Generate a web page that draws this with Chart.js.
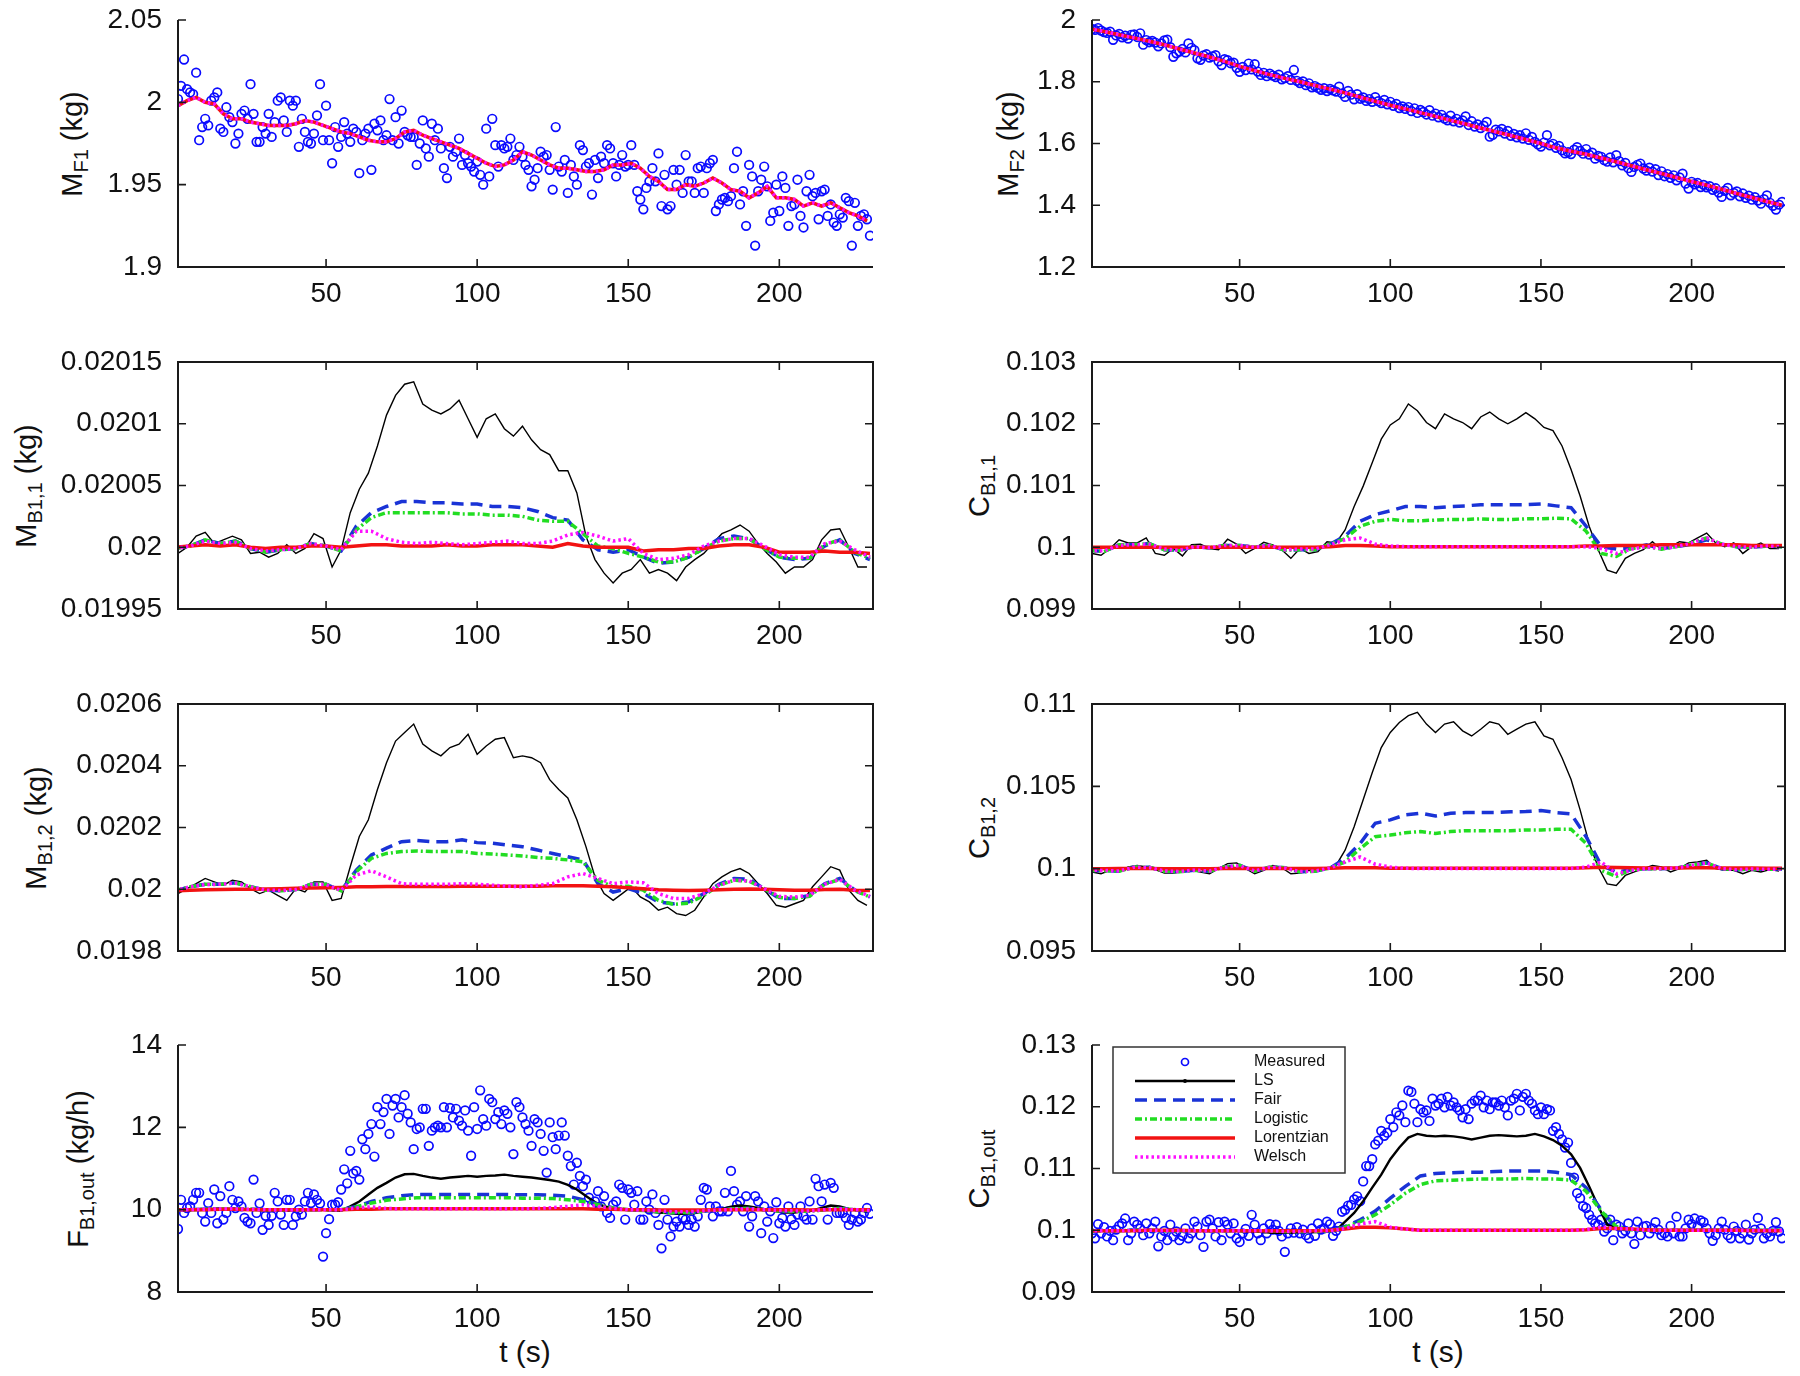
<!DOCTYPE html>
<html>
<head>
<meta charset="utf-8">
<script src="https://cdn.jsdelivr.net/npm/chart.js@4.4.1/dist/chart.umd.min.js"></script>
<style>
  html, body { margin: 0; padding: 0; background: #fff; }
  #page { position: relative; width: 1800px; height: 1376px; overflow: hidden; background: #fff;
          font-family: "Liberation Sans", Arial, Helvetica, sans-serif; color: #111; }
  canvas { position: absolute; }
  .ylab { position: absolute; font-size: 29px; white-space: nowrap; line-height: 1;
          transform: translate(-50%, -50%) rotate(-90deg); }
  .ylab sub { font-size: 20px; vertical-align: -0.3em; line-height: 0; }
  .xlab { position: absolute; font-size: 30px; white-space: nowrap; line-height: 1;
          transform: translate(-50%, -50%); }
</style>
</head>
<body>
<div id="page">
  <div class="ylab" style="left:72px;top:144px">M<sub>F1</sub> (kg)</div>
  <div class="ylab" style="left:1008px;top:144px">M<sub>F2</sub> (kg)</div>
  <div class="ylab" style="left:26px;top:486px">M<sub>B1,1</sub> (kg)</div>
  <div class="ylab" style="left:979px;top:486px">C<sub>B1,1</sub></div>
  <div class="ylab" style="left:36px;top:828px">M<sub>B1,2</sub> (kg)</div>
  <div class="ylab" style="left:979px;top:828px">C<sub>B1,2</sub></div>
  <div class="ylab" style="left:78px;top:1169px">F<sub>B1,out</sub> (kg/h)</div>
  <div class="ylab" style="left:979px;top:1169px">C<sub>B1,out</sub></div>
  <div class="xlab" style="left:525px;top:1352px">t (s)</div>
  <div class="xlab" style="left:1438px;top:1352px">t (s)</div>
</div>
<script>
// sample times (s): every second for measurements, every 3 s for LS, every 5 s for the robust fits
function seq(a, b, s) { var r = []; for (var v = a; v <= b; v += s) r.push(v); return r; }
var tMeas = seq(1, 230, 1);
var tLS = seq(1, 229, 3);
var tSm = seq(0, 230, 5);

var xTicks = [50, 100, 150, 200];
var xTickLabels = ['50', '100', '150', '200'];
var legendNames = ['Measured', 'LS', 'Fair', 'Logistic', 'Lorentzian', 'Welsch'];

// ---- M_F1 ----
var mf1Ticks = [1.9, 1.95, 2, 2.05];
var mf1TickLabels = ['1.9', '1.95', '2', '2.05'];
var mf1Measured = [
  2.002, 2.010, 2.026, 2.008, 2.006, 2.005, 2.018, 1.977, 1.985, 1.990,
  1.986, 2.001, 2.003, 2.006, 1.984, 1.982, 1.997, 1.991, 1.988, 1.975,
  1.981, 1.993, 1.995, 1.990, 2.011, 1.993, 1.976, 1.976, 1.985, 1.981,
  1.993, 1.979, 1.988, 2.001, 2.003, 1.989, 1.982, 2.001, 1.998, 2.001,
  1.973, 1.990, 1.982, 1.976, 1.975, 1.981, 1.992, 2.011, 1.977, 1.998,
  1.977, 1.963, 1.985, 1.973, 1.979, 1.988, 1.981, 1.976, 1.984, 1.982,
  1.957, 1.977, 1.981, 1.984, 1.959, 1.987, 1.983, 1.989, 1.977, 1.980,
  2.002, 1.977, 1.991, 1.975, 1.995, 1.982, 1.980, 1.979, 1.979, 1.962,
  1.975, 1.989, 1.972, 1.967, 1.987, 1.977, 1.984, 1.972, 1.960, 1.954,
  1.973, 1.967, 1.970, 1.978, 1.962, 1.968, 1.963, 1.961, 1.958, 1.964,
  1.956, 1.950, 1.984, 1.955, 1.990, 1.974, 1.961, 1.974, 1.972, 1.973,
  1.978, 1.965, 1.968, 1.973, 1.967, 1.962, 1.959, 1.949, 1.953, 1.960,
  1.970, 1.967, 1.968, 1.959, 1.947, 1.985, 1.961, 1.958, 1.965, 1.945,
  1.962, 1.955, 1.950, 1.974, 1.971, 1.961, 1.963, 1.944, 1.965, 1.954,
  1.967, 1.963, 1.974, 1.972, 1.963, 1.955, 1.962, 1.968, 1.961, 1.962,
  1.974, 1.962, 1.946, 1.941, 1.935, 1.948, 1.952, 1.960, 1.952, 1.969,
  1.937, 1.956, 1.935, 1.937, 1.959, 1.950, 1.959, 1.945, 1.968, 1.952,
  1.952, 1.945, 1.960, 1.961, 1.945, 1.960, 1.963, 1.965, 1.934, 1.938,
  1.941, 1.942, 1.940, 1.943, 1.960, 1.970, 1.938, 1.946, 1.925, 1.962,
  1.955, 1.913, 1.946, 1.953, 1.961, 1.949, 1.928, 1.933, 1.950, 1.934,
  1.955, 1.948, 1.925, 1.937, 1.938, 1.953, 1.931, 1.924, 1.946, 1.956,
  1.943, 1.945, 1.929, 1.946, 1.947, 1.931, 1.938, 1.927, 1.925, 1.932,
  1.930, 1.942, 1.940, 1.913, 1.939, 1.925, 1.931, 1.932, 1.929, 1.919
];
var mf1Fit = [
  1.998, 2.001, 2.003, 2.000, 1.999, 1.993, 1.990, 1.990, 1.988, 1.987,
  1.986, 1.986, 1.986, 1.987, 1.989, 1.988, 1.986, 1.984, 1.982, 1.981,
  1.979, 1.977, 1.976, 1.976, 1.978, 1.982, 1.983, 1.980, 1.978, 1.976,
  1.974, 1.972, 1.969, 1.966, 1.963, 1.961, 1.962, 1.965, 1.970, 1.968,
  1.965, 1.962, 1.960, 1.960, 1.959, 1.958, 1.958, 1.959, 1.962, 1.962,
  1.963, 1.960, 1.955, 1.952, 1.947, 1.947, 1.950, 1.949, 1.951, 1.954,
  1.951, 1.947, 1.946, 1.942, 1.945, 1.949, 1.942, 1.942, 1.941, 1.937,
  1.939, 1.937, 1.939, 1.936, 1.933, 1.931, 1.928
];

// ---- M_F2 ----
var mf2Ticks = [1.2, 1.4, 1.6, 1.8, 2];
var mf2TickLabels = ['1.2', '1.4', '1.6', '1.8', '2'];
var mf2Measured = [
  1.971, 1.968, 1.974, 1.966, 1.961, 1.958, 1.962, 1.936, 1.950, 1.955,
  1.944, 1.949, 1.940, 1.952, 1.953, 1.945, 1.957, 1.920, 1.935, 1.928,
  1.932, 1.927, 1.915, 1.924, 1.934, 1.936, 1.912, 1.881, 1.892, 1.898,
  1.906, 1.895, 1.924, 1.910, 1.902, 1.876, 1.871, 1.885, 1.889, 1.878,
  1.882, 1.886, 1.866, 1.854, 1.873, 1.870, 1.860, 1.862, 1.845, 1.832,
  1.848, 1.838, 1.859, 1.840, 1.857, 1.833, 1.822, 1.829, 1.818, 1.826,
  1.820, 1.815, 1.823, 1.808, 1.812, 1.818, 1.806, 1.838, 1.803, 1.796,
  1.801, 1.789, 1.795, 1.782, 1.786, 1.780, 1.774, 1.779, 1.770, 1.777,
  1.772, 1.768, 1.784, 1.762, 1.751, 1.770, 1.758, 1.743, 1.760, 1.745,
  1.749, 1.738, 1.744, 1.735, 1.750, 1.737, 1.731, 1.741, 1.727, 1.735,
  1.722, 1.728, 1.715, 1.720, 1.712, 1.718, 1.705, 1.714, 1.699, 1.709,
  1.702, 1.694, 1.708, 1.690, 1.697, 1.685, 1.693, 1.681, 1.675, 1.690,
  1.672, 1.680, 1.668, 1.675, 1.688, 1.660, 1.672, 1.655, 1.662, 1.650,
  1.658, 1.670, 1.622, 1.628, 1.645, 1.639, 1.647, 1.632, 1.641, 1.625,
  1.631, 1.620, 1.627, 1.616, 1.633, 1.612, 1.621, 1.605, 1.597, 1.590,
  1.603, 1.627, 1.594, 1.599, 1.586, 1.592, 1.578, 1.568, 1.572, 1.566,
  1.580, 1.588, 1.576, 1.567, 1.582, 1.564, 1.570, 1.551, 1.560, 1.557,
  1.546, 1.541, 1.555, 1.539, 1.562, 1.543, 1.529, 1.537, 1.520, 1.508,
  1.524, 1.531, 1.535, 1.519, 1.512, 1.522, 1.509, 1.517, 1.498, 1.510,
  1.494, 1.501, 1.489, 1.497, 1.481, 1.490, 1.502, 1.470, 1.454, 1.476,
  1.468, 1.472, 1.459, 1.466, 1.458, 1.462, 1.450, 1.455, 1.441, 1.427,
  1.447, 1.456, 1.432, 1.440, 1.445, 1.429, 1.438, 1.424, 1.431, 1.418,
  1.426, 1.415, 1.405, 1.420, 1.432, 1.408, 1.398, 1.386, 1.402, 1.411
];
var mf2Fit = [
  1.972, 1.963, 1.952, 1.942, 1.931, 1.920, 1.906, 1.893, 1.880, 1.866,
  1.850, 1.836, 1.823, 1.811, 1.800, 1.788, 1.776, 1.764, 1.750, 1.737,
  1.724, 1.712, 1.700, 1.688, 1.675, 1.663, 1.650, 1.638, 1.626, 1.613,
  1.600, 1.586, 1.575, 1.565, 1.553, 1.541, 1.528, 1.515, 1.503, 1.490,
  1.477, 1.465, 1.452, 1.438, 1.425, 1.412, 1.400
];

// ---- M_B1,1 ----
var mb11Ticks = [0.01995, 0.02, 0.02005, 0.0201, 0.02015];
var mb11TickLabels = ['0.01995', '0.02', '0.02005', '0.0201', '0.02015'];
var mb11LS = [
  0.019995, 0.020000, 0.020009, 0.020012, 0.020003, 0.020006, 0.020009, 0.020006, 0.019995, 0.019996,
  0.019992, 0.019995, 0.020002, 0.019995, 0.019999, 0.020011, 0.020007, 0.019984, 0.019998, 0.020028,
  0.020047, 0.020060, 0.020082, 0.020107, 0.020123, 0.020132, 0.020134, 0.020116, 0.020111, 0.020108,
  0.020112, 0.020119, 0.020104, 0.020089, 0.020104, 0.020108, 0.020096, 0.020090, 0.020098, 0.020087,
  0.020079, 0.020075, 0.020062, 0.020062, 0.020044, 0.020009, 0.019990, 0.019979, 0.019971, 0.019979,
  0.019982, 0.019990, 0.019979, 0.019982, 0.019979, 0.019973, 0.019984, 0.019990, 0.019995, 0.020003,
  0.020011, 0.020014, 0.020018, 0.020013, 0.020003, 0.019995, 0.019988, 0.019979, 0.019984, 0.019984,
  0.019990, 0.020006, 0.020014, 0.020015, 0.020000, 0.019984, 0.019984
];
var mb11Fair = [
  0.019999, 0.020001, 0.020006, 0.020003, 0.020005, 0.019999, 0.019996, 0.019998, 0.019999, 0.020003,
  0.020001, 0.019997, 0.020017, 0.020028, 0.020033, 0.020037, 0.020037, 0.020036, 0.020036, 0.020035,
  0.020035, 0.020033, 0.020033, 0.020032, 0.020029, 0.020024, 0.020022, 0.020006, 0.019998, 0.019996,
  0.019998, 0.019992, 0.019987, 0.019988, 0.019992, 0.019999, 0.020007, 0.020009, 0.020007, 0.019999,
  0.019992, 0.019990, 0.019991, 0.020001, 0.020006, 0.019995, 0.019990
];
var mb11Logistic = [
  0.019999, 0.020001, 0.020006, 0.020003, 0.020005, 0.019999, 0.019996, 0.019998, 0.019999, 0.020003,
  0.020001, 0.019997, 0.020014, 0.020024, 0.020028, 0.020028, 0.020028, 0.020028, 0.020028, 0.020027,
  0.020027, 0.020026, 0.020026, 0.020025, 0.020022, 0.020021, 0.020021, 0.020011, 0.020001, 0.019999,
  0.019995, 0.019992, 0.019988, 0.019988, 0.019992, 0.019999, 0.020005, 0.020007, 0.020007, 0.019999,
  0.019992, 0.019991, 0.019991, 0.020002, 0.020006, 0.019996, 0.019991
];
var mb11Welsch = [
  0.019999, 0.020001, 0.020005, 0.020003, 0.020004, 0.019999, 0.019997, 0.019998, 0.019999, 0.020003,
  0.020001, 0.019998, 0.020013, 0.020013, 0.020007, 0.020004, 0.020003, 0.020004, 0.020003, 0.020002,
  0.020003, 0.020004, 0.020005, 0.020003, 0.020003, 0.020005, 0.020010, 0.020012, 0.020009, 0.020005,
  0.020007, 0.019995, 0.019990, 0.019991, 0.019994, 0.020001, 0.020005, 0.020007, 0.020007, 0.020001,
  0.019994, 0.019992, 0.019992, 0.020003, 0.020005, 0.019998, 0.019992
];
var mb11Lorentzian = [
  0.020000, 0.020001, 0.020002, 0.020001, 0.020002, 0.020000, 0.019999, 0.020000, 0.020000, 0.020001,
  0.020001, 0.020000, 0.020001, 0.020002, 0.020002, 0.020001, 0.020001, 0.020001, 0.020002, 0.020001,
  0.020001, 0.020002, 0.020002, 0.020002, 0.020001, 0.020000, 0.020003, 0.020001, 0.020000, 0.020000,
  0.020000, 0.019997, 0.019998, 0.019998, 0.019999, 0.019999, 0.020001, 0.020002, 0.020002, 0.020000,
  0.019996, 0.019996, 0.019996, 0.019997, 0.019996, 0.019996, 0.019995
];

// ---- C_B1,1 ----
var cb11Ticks = [0.099, 0.1, 0.101, 0.102, 0.103];
var cb11TickLabels = ['0.099', '0.1', '0.101', '0.102', '0.103'];
var cb11LS = [
  0.09990, 0.09987, 0.09998, 0.10012, 0.10007, 0.10007, 0.10015, 0.09990, 0.09987, 0.09998,
  0.09986, 0.10004, 0.10005, 0.09998, 0.09996, 0.10013, 0.10005, 0.09990, 0.09998, 0.10008,
  0.10004, 0.09996, 0.09982, 0.09998, 0.09990, 0.09993, 0.10009, 0.10007, 0.10028, 0.10066,
  0.10099, 0.10137, 0.10175, 0.10198, 0.10208, 0.10232, 0.10221, 0.10202, 0.10192, 0.10216,
  0.10208, 0.10202, 0.10192, 0.10211, 0.10219, 0.10208, 0.10200, 0.10208, 0.10218, 0.10208,
  0.10194, 0.10189, 0.10164, 0.10126, 0.10083, 0.10034, 0.09996, 0.09963, 0.09958, 0.09982,
  0.09990, 0.09996, 0.10009, 0.09996, 0.10001, 0.10009, 0.10007, 0.10015, 0.10023, 0.10007,
  0.10001, 0.10007, 0.09990, 0.10001, 0.10007, 0.09998, 0.09998
];
var cb11Fair = [
  0.09995, 0.09993, 0.10004, 0.10004, 0.10006, 0.09996, 0.09995, 0.10001, 0.09999, 0.10003,
  0.10003, 0.10000, 0.10003, 0.09995, 0.09996, 0.09996, 0.10005, 0.10018, 0.10042, 0.10053,
  0.10059, 0.10066, 0.10066, 0.10064, 0.10066, 0.10067, 0.10069, 0.10069, 0.10069, 0.10069,
  0.10070, 0.10067, 0.10064, 0.10034, 0.10001, 0.09997, 0.09998, 0.10004, 0.09998, 0.10001,
  0.10005, 0.10012, 0.10005, 0.10001, 0.10000, 0.10002, 0.10001
];
var cb11Logistic = [
  0.09995, 0.09993, 0.10004, 0.10004, 0.10006, 0.09996, 0.09995, 0.10001, 0.09999, 0.10003,
  0.10003, 0.10000, 0.10003, 0.09995, 0.09996, 0.09996, 0.10005, 0.10014, 0.10034, 0.10042,
  0.10045, 0.10043, 0.10043, 0.10044, 0.10045, 0.10045, 0.10046, 0.10045, 0.10045, 0.10046,
  0.10046, 0.10047, 0.10046, 0.10026, 0.09990, 0.09985, 0.09998, 0.10001, 0.09997, 0.10001,
  0.10007, 0.10015, 0.10005, 0.10001, 0.10000, 0.10002, 0.10001
];
var cb11Welsch = [
  0.09995, 0.09994, 0.10003, 0.10004, 0.10005, 0.09997, 0.09995, 0.10001, 0.09999, 0.10003,
  0.10003, 0.10000, 0.10003, 0.09996, 0.09997, 0.09997, 0.10004, 0.10012, 0.10015, 0.10005,
  0.10002, 0.10001, 0.10001, 0.10001, 0.10001, 0.10001, 0.10001, 0.10001, 0.10001, 0.10001,
  0.10001, 0.10001, 0.10001, 0.10001, 0.09998, 0.09990, 0.09997, 0.10001, 0.09998, 0.10001,
  0.10007, 0.10015, 0.10005, 0.10001, 0.10000, 0.10002, 0.10001
];
var cb11Lorentzian = [
  0.10000, 0.10000, 0.10000, 0.10000, 0.10000, 0.10000, 0.10000, 0.10000, 0.10000, 0.10000,
  0.10000, 0.10000, 0.10000, 0.10000, 0.10000, 0.10000, 0.10001, 0.10003, 0.10003, 0.10002,
  0.10001, 0.10001, 0.10001, 0.10001, 0.10001, 0.10001, 0.10001, 0.10001, 0.10001, 0.10001,
  0.10001, 0.10001, 0.10001, 0.10002, 0.10002, 0.10003, 0.10003, 0.10003, 0.10004, 0.10004,
  0.10004, 0.10004, 0.10004, 0.10004, 0.10003, 0.10003, 0.10003
];

// ---- M_B1,2 ----
var mb12Ticks = [0.0198, 0.02, 0.0202, 0.0204, 0.0206];
var mb12TickLabels = ['0.0198', '0.02', '0.0202', '0.0204', '0.0206'];
var mb12LS = [
  0.019986, 0.020002, 0.020018, 0.020035, 0.020024, 0.020013, 0.020029, 0.020024, 0.020002, 0.019986,
  0.019997, 0.019980, 0.019964, 0.020002, 0.019991, 0.020024, 0.020024, 0.019964, 0.019970, 0.020073,
  0.020171, 0.020225, 0.020323, 0.020410, 0.020480, 0.020508, 0.020535, 0.020470, 0.020448, 0.020432,
  0.020459, 0.020470, 0.020502, 0.020437, 0.020464, 0.020486, 0.020491, 0.020426, 0.020432, 0.020426,
  0.020410, 0.020355, 0.020323, 0.020296, 0.020225, 0.020138, 0.020040, 0.019986, 0.019964, 0.019986,
  0.020008, 0.019975, 0.019959, 0.019932, 0.019942, 0.019921, 0.019915, 0.019932, 0.019975, 0.020018,
  0.020040, 0.020057, 0.020067, 0.020051, 0.020018, 0.019986, 0.019948, 0.019942, 0.019953, 0.019964,
  0.020008, 0.020040, 0.020073, 0.020062, 0.019997, 0.019964, 0.019948
];
var mb12Fair = [
  0.019995, 0.020008, 0.020016, 0.020016, 0.020021, 0.020008, 0.019997, 0.019995, 0.019999, 0.020016,
  0.020016, 0.019995, 0.020062, 0.020111, 0.020133, 0.020154, 0.020158, 0.020154, 0.020154, 0.020160,
  0.020151, 0.020149, 0.020143, 0.020138, 0.020127, 0.020116, 0.020105, 0.020095, 0.020018, 0.019991,
  0.020002, 0.019986, 0.019959, 0.019953, 0.019959, 0.019986, 0.020016, 0.020035, 0.020032, 0.020002,
  0.019970, 0.019970, 0.019980, 0.020018, 0.020035, 0.019997, 0.019975
];
var mb12Logistic = [
  0.019995, 0.020008, 0.020016, 0.020016, 0.020021, 0.020008, 0.019997, 0.019995, 0.019999, 0.020016,
  0.020016, 0.019995, 0.020057, 0.020100, 0.020116, 0.020122, 0.020124, 0.020122, 0.020122, 0.020122,
  0.020116, 0.020114, 0.020111, 0.020108, 0.020103, 0.020100, 0.020095, 0.020089, 0.020029, 0.020008,
  0.020010, 0.019997, 0.019964, 0.019951, 0.019955, 0.019980, 0.020013, 0.020029, 0.020026, 0.020002,
  0.019973, 0.019970, 0.019977, 0.020016, 0.020032, 0.019995, 0.019975
];
var mb12Welsch = [
  0.019996, 0.020008, 0.020015, 0.020016, 0.020020, 0.020008, 0.019997, 0.019996, 0.019999, 0.020015,
  0.020015, 0.019996, 0.020046, 0.020060, 0.020040, 0.020018, 0.020016, 0.020016, 0.020016, 0.020018,
  0.020016, 0.020013, 0.020010, 0.020008, 0.020013, 0.020018, 0.020040, 0.020051, 0.020035, 0.020018,
  0.020024, 0.020021, 0.019986, 0.019970, 0.019970, 0.019986, 0.020013, 0.020029, 0.020027, 0.020002,
  0.019977, 0.019975, 0.019980, 0.020016, 0.020032, 0.019997, 0.019977
];
var mb12Lorentzian = [
  0.019995, 0.019997, 0.019998, 0.019999, 0.020000, 0.020000, 0.020001, 0.020002, 0.020003, 0.020004,
  0.020005, 0.020006, 0.020008, 0.020008, 0.020009, 0.020009, 0.020009, 0.020009, 0.020009, 0.020010,
  0.020010, 0.020010, 0.020010, 0.020010, 0.020010, 0.020011, 0.020011, 0.020011, 0.020010, 0.020008,
  0.020005, 0.020002, 0.019998, 0.019997, 0.019996, 0.019997, 0.019998, 0.020000, 0.020001, 0.020000,
  0.019998, 0.019997, 0.019997, 0.019999, 0.020000, 0.019997, 0.019996
];

// ---- C_B1,2 ----
var cb12Ticks = [0.095, 0.1, 0.105, 0.11];
var cb12TickLabels = ['0.095', '0.1', '0.105', '0.11'];
var cb12LS = [
  0.09980, 0.09969, 0.09990, 0.09980, 0.10010, 0.10020, 0.10010, 0.09994, 0.09973, 0.09973,
  0.09980, 0.09990, 0.09980, 0.09969, 0.10000, 0.10031, 0.10035, 0.10000, 0.09969, 0.09990,
  0.10020, 0.10006, 0.09969, 0.09973, 0.09990, 0.09986, 0.10000, 0.10020, 0.10112, 0.10255,
  0.10418, 0.10582, 0.10735, 0.10827, 0.10888, 0.10929, 0.10949, 0.10878, 0.10827, 0.10878,
  0.10892, 0.10837, 0.10806, 0.10847, 0.10892, 0.10878, 0.10816, 0.10847, 0.10878, 0.10892,
  0.10806, 0.10786, 0.10674, 0.10541, 0.10357, 0.10153, 0.10010, 0.09908, 0.09898, 0.09959,
  0.09980, 0.10000, 0.10020, 0.10010, 0.09980, 0.10000, 0.10035, 0.10041, 0.10051, 0.10000,
  0.09990, 0.09990, 0.09969, 0.09990, 0.09980, 0.09994, 0.09986
];
var cb12Fair = [
  0.09990, 0.09988, 0.09985, 0.10010, 0.10008, 0.09985, 0.09982, 0.09990, 0.09985, 0.10010,
  0.10020, 0.09985, 0.10010, 0.10005, 0.09980, 0.09985, 0.10004, 0.10061, 0.10153, 0.10276,
  0.10296, 0.10327, 0.10337, 0.10320, 0.10337, 0.10341, 0.10341, 0.10341, 0.10345, 0.10347,
  0.10353, 0.10341, 0.10333, 0.10194, 0.10020, 0.09980, 0.09994, 0.10000, 0.10000, 0.10004,
  0.10020, 0.10035, 0.10000, 0.09994, 0.09998, 0.09996, 0.09998
];
var cb12Logistic = [
  0.09990, 0.09988, 0.09985, 0.10010, 0.10008, 0.09985, 0.09982, 0.09990, 0.09985, 0.10010,
  0.10020, 0.09985, 0.10010, 0.10005, 0.09980, 0.09985, 0.10004, 0.10041, 0.10122, 0.10194,
  0.10204, 0.10218, 0.10225, 0.10214, 0.10225, 0.10231, 0.10231, 0.10231, 0.10231, 0.10235,
  0.10235, 0.10239, 0.10239, 0.10153, 0.09990, 0.09953, 0.09994, 0.10000, 0.10000, 0.10004,
  0.10020, 0.10035, 0.10000, 0.09994, 0.09998, 0.09996, 0.09998
];
var cb12Welsch = [
  0.09991, 0.09989, 0.09986, 0.10009, 0.10007, 0.09986, 0.09983, 0.09991, 0.09986, 0.10009,
  0.10018, 0.09986, 0.10009, 0.10004, 0.09982, 0.09986, 0.10004, 0.10041, 0.10071, 0.10027,
  0.10010, 0.10002, 0.10001, 0.10001, 0.10001, 0.10001, 0.10001, 0.10001, 0.10001, 0.10001,
  0.10001, 0.10001, 0.10001, 0.10010, 0.10041, 0.09969, 0.09990, 0.10000, 0.10000, 0.10004,
  0.10020, 0.10035, 0.10000, 0.09994, 0.09998, 0.09996, 0.09998
];
var cb12Lorentzian = [
  0.10000, 0.10000, 0.10001, 0.10001, 0.10001, 0.10000, 0.10000, 0.10000, 0.10000, 0.10001,
  0.10001, 0.10001, 0.10001, 0.10001, 0.10001, 0.10001, 0.10002, 0.10005, 0.10006, 0.10005,
  0.10003, 0.10002, 0.10002, 0.10002, 0.10002, 0.10002, 0.10002, 0.10002, 0.10002, 0.10002,
  0.10002, 0.10002, 0.10003, 0.10005, 0.10008, 0.10007, 0.10005, 0.10004, 0.10004, 0.10004,
  0.10005, 0.10005, 0.10004, 0.10004, 0.10004, 0.10003, 0.10003
];

// ---- F_B1,out ----
var fbTicks = [8, 10, 12, 14];
var fbTickLabels = ['8', '10', '12', '14'];
var fbMeasured = [
  9.53, 10.24, 9.92, 10.04, 10.08, 10.24, 10.41, 10.41, 9.92, 9.71,
  10.16, 9.92, 10.49, 9.67, 10.33, 9.76, 9.92, 10.57, 10.24, 10.04,
  10.20, 10.08, 9.80, 9.71, 9.67, 10.73, 9.92, 10.15, 9.51, 9.85,
  9.63, 9.85, 10.41, 10.20, 9.88, 9.63, 10.24, 10.24, 9.63, 9.84,
  10.00, 9.88, 10.20, 10.41, 10.16, 10.37, 10.24, 10.15, 8.86, 9.43,
  9.77, 10.12, 10.12, 10.18, 10.49, 10.98, 10.64, 11.43, 10.88, 10.94,
  10.73, 11.71, 11.47, 11.84, 12.08, 11.29, 12.49, 12.08, 12.37, 12.69,
  11.84, 12.53, 12.69, 12.24, 12.49, 12.78, 12.33, 12.12, 11.47, 11.96,
  12.00, 12.45, 12.45, 11.55, 11.92, 12.00, 12.04, 12.00, 12.49, 12.00,
  12.47, 12.24, 12.45, 12.16, 12.04, 12.41, 11.92, 11.31, 12.49, 11.96,
  12.90, 12.20, 12.04, 12.69, 12.61, 12.20, 12.37, 12.08, 12.41, 12.33,
  12.00, 11.35, 12.61, 12.49, 12.24, 12.08, 11.92, 11.55, 12.20, 12.12,
  11.84, 11.43, 10.90, 12.12, 11.76, 11.47, 11.80, 12.12, 11.80, 11.31,
  11.06, 10.61, 11.14, 10.82, 10.57, 10.73, 10.29, 10.12, 10.20, 10.45,
  10.08, 10.33, 9.92, 9.80, 10.12, 10.20, 10.61, 10.53, 9.76, 10.49,
  10.41, 10.12, 10.45, 9.76, 9.76, 10.20, 10.00, 10.37, 9.92, 9.63,
  9.06, 10.24, 9.76, 9.35, 9.59, 9.71, 9.59, 9.80, 9.76, 9.63,
  9.76, 9.59, 9.84, 10.24, 10.53, 10.49, 10.08, 9.84, 10.08, 9.96,
  9.96, 10.41, 9.96, 10.94, 10.45, 10.12, 10.20, 9.96, 10.33, 9.59,
  9.84, 10.33, 10.20, 9.43, 10.08, 9.71, 9.96, 9.31, 10.18, 9.67,
  9.80, 9.59, 10.08, 9.77, 9.63, 9.88, 10.08, 9.84, 9.76, 10.20,
  9.76, 10.75, 10.57, 10.20, 10.61, 9.76, 10.65, 10.53, 9.92, 9.92,
  9.92, 9.80, 9.63, 9.76, 9.92, 9.71, 9.76, 9.92, 10.04, 9.90
];
var fbLS = [
  9.98, 9.99, 10.00, 10.02, 10.02, 10.03, 10.02, 10.01, 10.00, 9.99,
  9.98, 9.98, 9.98, 9.98, 9.99, 10.00, 10.00, 9.98, 9.97, 10.08,
  10.20, 10.37, 10.53, 10.65, 10.78, 10.86, 10.87, 10.82, 10.78, 10.75,
  10.78, 10.80, 10.82, 10.80, 10.82, 10.83, 10.85, 10.82, 10.80, 10.78,
  10.75, 10.72, 10.68, 10.60, 10.49, 10.33, 10.18, 10.08, 10.04, 10.02,
  10.00, 9.98, 9.96, 9.93, 9.92, 9.90, 9.90, 9.92, 9.96, 10.00,
  10.02, 10.07, 10.10, 10.08, 10.04, 10.00, 9.96, 9.93, 9.93, 9.96,
  9.98, 10.04, 10.10, 10.08, 10.02, 9.98, 9.96
];
var fbFair = [
  10.00, 10.00, 10.01, 10.02, 10.02, 10.01, 10.00, 9.99, 9.99, 10.00,
  10.00, 10.00, 10.08, 10.20, 10.29, 10.34, 10.37, 10.37, 10.37, 10.37,
  10.37, 10.37, 10.37, 10.36, 10.36, 10.35, 10.33, 10.24, 10.14, 10.04,
  10.00, 9.98, 9.95, 9.93, 9.93, 9.96, 9.99, 10.02, 10.03, 10.00,
  9.97, 9.96, 9.96, 10.00, 10.03, 10.00, 9.98
];
var fbLogistic = [
  10.00, 10.00, 10.01, 10.02, 10.02, 10.01, 10.00, 9.99, 9.99, 10.00,
  10.00, 10.00, 10.07, 10.16, 10.23, 10.26, 10.29, 10.29, 10.29, 10.29,
  10.29, 10.29, 10.29, 10.28, 10.28, 10.27, 10.24, 10.20, 10.12, 10.04,
  10.00, 9.98, 9.95, 9.93, 9.93, 9.96, 9.99, 10.02, 10.03, 10.00,
  9.97, 9.96, 9.96, 10.00, 10.03, 10.00, 9.98
];
var fbWelsch = [
  10.00, 10.00, 10.01, 10.02, 10.02, 10.01, 10.00, 9.99, 9.99, 10.00,
  10.00, 10.00, 10.04, 10.07, 10.03, 10.02, 10.02, 10.02, 10.02, 10.02,
  10.02, 10.02, 10.02, 10.02, 10.03, 10.05, 10.08, 10.12, 10.08, 10.03,
  10.00, 9.99, 9.97, 9.95, 9.95, 9.97, 9.99, 10.01, 10.02, 10.00,
  9.98, 9.97, 9.97, 10.00, 10.02, 10.00, 9.98
];
var fbLorentzian = [
  10.00, 10.00, 10.00, 10.01, 10.01, 10.00, 10.00, 10.00, 10.00, 10.00,
  10.00, 10.00, 10.01, 10.01, 10.02, 10.02, 10.02, 10.02, 10.02, 10.02,
  10.02, 10.02, 10.02, 10.02, 10.02, 10.02, 10.02, 10.02, 10.01, 10.01,
  10.00, 10.00, 9.99, 9.99, 9.99, 9.99, 10.00, 10.00, 10.00, 10.00,
  10.00, 10.00, 9.99, 10.00, 10.00, 10.00, 10.00
];

// ---- C_B1,out ----
var cboTicks = [0.09, 0.1, 0.11, 0.12, 0.13];
var cboTickLabels = ['0.09', '0.1', '0.11', '0.12', '0.13'];
var cboMeasured = [
  0.0995, 0.0987, 0.1010, 0.0995, 0.1005, 0.0990, 0.0999, 0.0984, 0.1001, 0.1007,
  0.1011, 0.1019, 0.0984, 0.0995, 0.1014, 0.1009, 0.1003, 0.0992, 0.1011, 0.0995,
  0.1003, 0.1014, 0.0974, 0.0990, 0.0999, 0.0984, 0.1009, 0.0990, 0.0998, 0.0984,
  0.0991, 0.1003, 0.0987, 0.0995, 0.1014, 0.1006, 0.0992, 0.0973, 0.1014, 0.1017,
  0.1003, 0.0990, 0.1013, 0.0984, 0.1014, 0.1009, 0.0995, 0.1011, 0.0987, 0.0981,
  0.0995, 0.1002, 0.0991, 0.1025, 0.1009, 0.0995, 0.0984, 0.1003, 0.0995, 0.1010,
  0.1001, 0.1009, 0.0999, 0.0990, 0.0965, 0.0995, 0.1003, 0.0996, 0.1005, 0.0995,
  0.1001, 0.0992, 0.0987, 0.1003, 0.0991, 0.1011, 0.1001, 0.1003, 0.1014, 0.1010,
  0.0991, 0.0999, 0.1006, 0.1030, 0.1033, 0.1040, 0.1041, 0.1050, 0.1055, 0.1047,
  0.1079, 0.1104, 0.1104, 0.1115, 0.1139, 0.1145, 0.1161, 0.1153, 0.1158, 0.1180,
  0.1167, 0.1191, 0.1186, 0.1202, 0.1175, 0.1226, 0.1224, 0.1205, 0.1175, 0.1196,
  0.1191, 0.1194, 0.1177, 0.1213, 0.1202, 0.1205, 0.1213, 0.1199, 0.1216, 0.1202,
  0.1207, 0.1199, 0.1194, 0.1183, 0.1196, 0.1180, 0.1205, 0.1210, 0.1210, 0.1218,
  0.1199, 0.1210, 0.1196, 0.1207, 0.1207, 0.1202, 0.1210, 0.1199, 0.1186, 0.1210,
  0.1213, 0.1221, 0.1194, 0.1216, 0.1221, 0.1210, 0.1205, 0.1194, 0.1188, 0.1199,
  0.1188, 0.1196, 0.1194, 0.1161, 0.1167, 0.1156, 0.1147, 0.1134, 0.1142, 0.1109,
  0.1085, 0.1060, 0.1052, 0.1039, 0.1036, 0.1025, 0.1017, 0.1011, 0.1009, 0.1017,
  0.0998, 0.1003, 0.1017, 0.0984, 0.1009, 0.1006, 0.0995, 0.0999, 0.1011, 0.0995,
  0.0978, 0.1014, 0.0992, 0.1006, 0.1007, 0.0995, 0.1003, 0.1013, 0.1001, 0.0992,
  0.0995, 0.0990, 0.1007, 0.0995, 0.1022, 0.0990, 0.0990, 0.1003, 0.1017, 0.1010,
  0.1019, 0.1006, 0.1016, 0.1013, 0.1003, 0.0995, 0.0983, 0.0992, 0.1003, 0.1014,
  0.1001, 0.0992, 0.0987, 0.1006, 0.0999, 0.0987, 0.0995, 0.1009, 0.0985, 0.0995,
  0.1001, 0.1020, 0.1003, 0.0987, 0.0995, 0.0990, 0.0999, 0.1013, 0.0998, 0.0987
];
var cboLS = [
  0.0998, 0.0999, 0.1000, 0.1000, 0.0999, 0.0999, 0.0999, 0.1000, 0.1000, 0.0999,
  0.0999, 0.0999, 0.1000, 0.1000, 0.0999, 0.0999, 0.0999, 0.0998, 0.0998, 0.0997,
  0.0996, 0.0996, 0.0996, 0.0997, 0.0997, 0.0997, 0.0998, 0.1000, 0.1014, 0.1028,
  0.1047, 0.1069, 0.1090, 0.1115, 0.1134, 0.1150, 0.1156, 0.1153, 0.1152, 0.1153,
  0.1152, 0.1150, 0.1147, 0.1150, 0.1153, 0.1154, 0.1153, 0.1152, 0.1153, 0.1156,
  0.1152, 0.1146, 0.1137, 0.1123, 0.1101, 0.1071, 0.1039, 0.1009, 0.1003, 0.1001,
  0.1001, 0.1000, 0.1000, 0.1000, 0.1000, 0.1000, 0.1000, 0.1000, 0.1000, 0.1000,
  0.1000, 0.1000, 0.1000, 0.1000, 0.1000, 0.1000, 0.1000
];
var cboFair = [
  0.0999, 0.0999, 0.0999, 0.1000, 0.1000, 0.0999, 0.0999, 0.0999, 0.0999, 0.0999,
  0.0999, 0.0999, 0.0999, 0.0998, 0.0998, 0.0998, 0.0999, 0.1006, 0.1017, 0.1031,
  0.1052, 0.1071, 0.1088, 0.1092, 0.1093, 0.1094, 0.1094, 0.1095, 0.1096, 0.1096,
  0.1096, 0.1094, 0.1090, 0.1069, 0.1033, 0.1003, 0.1000, 0.1000, 0.1000, 0.1000,
  0.1000, 0.1000, 0.1000, 0.1000, 0.1000, 0.1000, 0.1000
];
var cboLogistic = [
  0.0999, 0.0999, 0.0999, 0.1000, 0.1000, 0.0999, 0.0999, 0.0999, 0.0999, 0.0999,
  0.0999, 0.0999, 0.0999, 0.0998, 0.0998, 0.0998, 0.0999, 0.1005, 0.1014, 0.1025,
  0.1041, 0.1060, 0.1074, 0.1080, 0.1081, 0.1082, 0.1083, 0.1083, 0.1083, 0.1084,
  0.1083, 0.1083, 0.1081, 0.1063, 0.1031, 0.1006, 0.1001, 0.1000, 0.1000, 0.1000,
  0.1000, 0.1000, 0.1000, 0.1000, 0.1000, 0.1000, 0.1000
];
var cboWelsch = [
  0.0999, 0.0999, 0.0999, 0.1000, 0.1000, 0.0999, 0.0999, 0.0999, 0.0999, 0.0999,
  0.0999, 0.0999, 0.0999, 0.0998, 0.0998, 0.0999, 0.0999, 0.1003, 0.1010, 0.1014,
  0.1005, 0.1002, 0.1000, 0.1000, 0.1000, 0.1000, 0.1000, 0.1000, 0.1000, 0.1000,
  0.1000, 0.1000, 0.1000, 0.1001, 0.1005, 0.1003, 0.1002, 0.1000, 0.1000, 0.1000,
  0.1000, 0.1000, 0.1000, 0.1000, 0.1000, 0.1000, 0.1000
];
var cboLorentzian = [
  0.0999, 0.0999, 0.0999, 0.0999, 0.1000, 0.1000, 0.1000, 0.0999, 0.0999, 0.0999,
  0.0999, 0.0999, 0.0999, 0.0999, 0.0999, 0.0999, 0.1000, 0.1002, 0.1005, 0.1005,
  0.1004, 0.1002, 0.1000, 0.1000, 0.1000, 0.1000, 0.1000, 0.1000, 0.1000, 0.1000,
  0.1000, 0.1000, 0.1000, 0.1001, 0.1003, 0.1003, 0.1002, 0.1001, 0.1000, 0.1000,
  0.1000, 0.1000, 0.1000, 0.1000, 0.0999, 0.0999, 0.0999
];

// ---------------- layout ----------------
var page = document.getElementById('page');
var COLS = [{ left: 0, axisW: 178, padR: 27 }, { left: 900, axisW: 192, padR: 15 }];
var ROW_TOPS = [20, 362, 704, 1045];
var PLOT_H = 247, PAD_T = 20, XAXIS_H = 60;
var FONT = '"Liberation Sans", Arial, Helvetica, sans-serif';

var STYLE = {
  Measured:   { showLine: false, borderColor: '#0a0aff', backgroundColor: 'rgba(0,0,0,0)', pointRadius: 4.3, pointBorderWidth: 1.7, order: 6 },
  LS:         { borderColor: '#000000', borderWidth: 1.4, pointRadius: 0, order: 5 },
  Fair:       { borderColor: '#1a33d6', borderWidth: 3.5, borderDash: [12, 7], pointRadius: 0, order: 4 },
  Logistic:   { borderColor: '#22dd22', borderWidth: 3.5, borderDash: [7, 3, 2, 3], pointRadius: 0, order: 3 },
  Lorentzian: { borderColor: '#f21212', borderWidth: 3.5, pointRadius: 0, order: 2 },
  Welsch:     { borderColor: '#ff10ff', borderWidth: 3.5, borderDash: [2.5, 3], pointRadius: 0, order: 1 }
};

function makeDataset(name, t, v, lsWidth) {
  var ds = Object.assign({}, STYLE[name]);
  if (name === 'LS' && lsWidth) ds.borderWidth = lsWidth;
  ds.label = name;
  ds.fill = false;
  ds.data = v.map(function (y, i) { return { x: t[i], y: y }; });
  return ds;
}

// axis lines and inward tick marks, matlab style
var framePlugin = {
  id: 'frame',
  afterDatasetsDraw: function (chart, args, opts) {
    var ctx = chart.ctx, a = chart.chartArea, x = chart.scales.x, y = chart.scales.y;
    ctx.save();
    ctx.strokeStyle = '#1a1a1a';
    ctx.lineWidth = 2;
    ctx.beginPath();
    if (opts.boxed) {
      ctx.rect(a.left, a.top, a.right - a.left, a.bottom - a.top);
    } else {
      ctx.moveTo(a.left, a.top); ctx.lineTo(a.left, a.bottom); ctx.lineTo(a.right, a.bottom);
    }
    ctx.stroke();
    ctx.lineWidth = 1.6;
    ctx.beginPath();
    y.ticks.forEach(function (t) {
      var py = y.getPixelForValue(t.value);
      ctx.moveTo(a.left, py); ctx.lineTo(a.left + 8, py);
      if (opts.boxed) { ctx.moveTo(a.right, py); ctx.lineTo(a.right - 8, py); }
    });
    x.ticks.forEach(function (t) {
      var px = x.getPixelForValue(t.value);
      ctx.moveTo(px, a.bottom); ctx.lineTo(px, a.bottom - 8);
      if (opts.boxed) { ctx.moveTo(px, a.top); ctx.lineTo(px, a.top + 8); }
    });
    ctx.stroke();
    ctx.restore();
  }
};

// boxed legend in the upper left of the last panel
var boxLegendPlugin = {
  id: 'boxLegend',
  afterDraw: function (chart, args, opts) {
    if (!opts.show) return;
    var ctx = chart.ctx, a = chart.chartArea;
    var bx = a.left + 21, by = a.top + 2, bw = 232, bh = 126;
    ctx.save();
    ctx.fillStyle = '#ffffff';
    ctx.fillRect(bx, by, bw, bh);
    ctx.strokeStyle = '#333333';
    ctx.lineWidth = 1.5;
    ctx.strokeRect(bx, by, bw, bh);
    ctx.font = '16px ' + FONT;
    ctx.textBaseline = 'middle';
    legendNames.forEach(function (name, i) {
      var ds = chart.data.datasets.find(function (d) { return d.label === name; });
      var yy = by + 15 + i * 19;
      if (ds) {
        ctx.strokeStyle = ds.borderColor;
        if (ds.showLine === false) {
          ctx.lineWidth = ds.pointBorderWidth;
          ctx.setLineDash([]);
          ctx.beginPath(); ctx.arc(bx + 72, yy, 3.5, 0, Math.PI * 2); ctx.stroke();
        } else {
          ctx.lineWidth = ds.borderWidth;
          ctx.setLineDash(ds.borderDash || []);
          ctx.beginPath(); ctx.moveTo(bx + 22, yy); ctx.lineTo(bx + 122, yy); ctx.stroke();
          if (name === 'LS') {
            ctx.setLineDash([]);
            ctx.fillStyle = ds.borderColor;
            ctx.beginPath(); ctx.arc(bx + 72, yy, 2, 0, Math.PI * 2); ctx.fill();
          }
        }
      }
      ctx.setLineDash([]);
      ctx.fillStyle = '#111111';
      ctx.fillText(name, bx + 141, yy);
    });
    ctx.restore();
  }
};

function makePanel(p) {
  var col = COLS[p.col];
  var c = document.createElement('canvas');
  var h = PAD_T + PLOT_H + XAXIS_H;
  c.width = 900; c.height = h;
  c.style.left = col.left + 'px';
  c.style.top = (ROW_TOPS[p.row] - PAD_T) + 'px';
  c.style.width = '900px'; c.style.height = h + 'px';
  page.appendChild(c);

  var datasets = p.series.map(function (s) { return makeDataset(s[0], s[1], s[2], p.lsWidth); });
  var tickFont = { family: FONT, size: 28 };

  new Chart(c.getContext('2d'), {
    type: 'line',
    data: { datasets: datasets },
    plugins: [framePlugin, boxLegendPlugin],
    options: {
      responsive: false,
      animation: false,
      devicePixelRatio: 1,
      layout: { padding: { top: PAD_T, right: col.padR, left: 0, bottom: 0 } },
      elements: { line: { tension: 0 } },
      plugins: {
        legend: { display: false },
        tooltip: { enabled: false },
        frame: { boxed: !!p.boxed },
        boxLegend: { show: !!p.legend }
      },
      scales: {
        x: {
          type: 'linear', min: 1, max: 231,
          afterBuildTicks: function (s) { s.ticks = xTicks.map(function (v) { return { value: v }; }); },
          afterFit: function (s) { s.height = XAXIS_H; s.paddingLeft = 0; s.paddingRight = 0; },
          ticks: {
            font: tickFont, color: '#111', padding: 10, maxRotation: 0, autoSkip: false,
            callback: function (v) { return xTickLabels[xTicks.indexOf(v)]; }
          },
          grid: { display: false, drawTicks: false },
          border: { display: false }
        },
        y: {
          min: p.yMin, max: p.yMax,
          afterBuildTicks: function (s) { s.ticks = p.yTicks.map(function (v) { return { value: v }; }); },
          afterFit: function (s) { s.width = col.axisW; s.paddingTop = 0; s.paddingBottom = 0; },
          ticks: {
            font: tickFont, color: '#111', padding: 16, autoSkip: false,
            callback: function (v) { return p.yLabels[p.yTicks.indexOf(v)]; }
          },
          grid: { display: false, drawTicks: false },
          border: { display: false }
        }
      }
    }
  });
}

var panels = [
  { col: 0, row: 0, yMin: 1.9, yMax: 2.05, yTicks: mf1Ticks, yLabels: mf1TickLabels, lsWidth: 2,
    series: [['Measured', tMeas, mf1Measured], ['LS', tLS, mf1Fit], ['Lorentzian', tLS, mf1Fit], ['Welsch', tLS, mf1Fit]] },
  { col: 1, row: 0, yMin: 1.2, yMax: 2, yTicks: mf2Ticks, yLabels: mf2TickLabels, lsWidth: 2,
    series: [['Measured', tMeas, mf2Measured], ['LS', tSm, mf2Fit], ['Lorentzian', tSm, mf2Fit], ['Welsch', tSm, mf2Fit]] },
  { col: 0, row: 1, yMin: 0.01995, yMax: 0.02015, yTicks: mb11Ticks, yLabels: mb11TickLabels, boxed: true,
    series: [['LS', tLS, mb11LS], ['Fair', tSm, mb11Fair], ['Logistic', tSm, mb11Logistic], ['Lorentzian', tSm, mb11Lorentzian], ['Welsch', tSm, mb11Welsch]] },
  { col: 1, row: 1, yMin: 0.099, yMax: 0.103, yTicks: cb11Ticks, yLabels: cb11TickLabels, boxed: true,
    series: [['LS', tLS, cb11LS], ['Fair', tSm, cb11Fair], ['Logistic', tSm, cb11Logistic], ['Lorentzian', tSm, cb11Lorentzian], ['Welsch', tSm, cb11Welsch]] },
  { col: 0, row: 2, yMin: 0.0198, yMax: 0.0206, yTicks: mb12Ticks, yLabels: mb12TickLabels, boxed: true,
    series: [['LS', tLS, mb12LS], ['Fair', tSm, mb12Fair], ['Logistic', tSm, mb12Logistic], ['Lorentzian', tSm, mb12Lorentzian], ['Welsch', tSm, mb12Welsch]] },
  { col: 1, row: 2, yMin: 0.095, yMax: 0.11, yTicks: cb12Ticks, yLabels: cb12TickLabels, boxed: true,
    series: [['LS', tLS, cb12LS], ['Fair', tSm, cb12Fair], ['Logistic', tSm, cb12Logistic], ['Lorentzian', tSm, cb12Lorentzian], ['Welsch', tSm, cb12Welsch]] },
  { col: 0, row: 3, yMin: 8, yMax: 14, yTicks: fbTicks, yLabels: fbTickLabels, lsWidth: 2.4,
    series: [['Measured', tMeas, fbMeasured], ['LS', tLS, fbLS], ['Fair', tSm, fbFair], ['Logistic', tSm, fbLogistic], ['Lorentzian', tSm, fbLorentzian], ['Welsch', tSm, fbWelsch]] },
  { col: 1, row: 3, yMin: 0.09, yMax: 0.13, yTicks: cboTicks, yLabels: cboTickLabels, lsWidth: 2.4, legend: true,
    series: [['Measured', tMeas, cboMeasured], ['LS', tLS, cboLS], ['Fair', tSm, cboFair], ['Logistic', tSm, cboLogistic], ['Lorentzian', tSm, cboLorentzian], ['Welsch', tSm, cboWelsch]] }
];

panels.forEach(makePanel);
</script>
</body>
</html>
